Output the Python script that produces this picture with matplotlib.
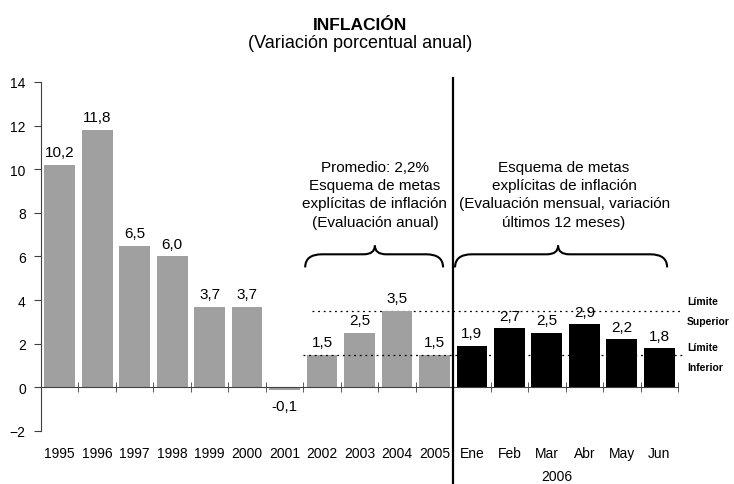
import matplotlib
matplotlib.use("Agg")
import matplotlib.pyplot as plt
from matplotlib.path import Path
from matplotlib.patches import PathPatch
import matplotlib.transforms as mtransforms
import numpy as np

plt.rcParams['font.family'] = ['Liberation Sans', 'DejaVu Sans']

# data
years = ['1995', '1996', '1997', '1998', '1999', '2000', '2001',
         '2002', '2003', '2004', '2005']
year_vals = [10.2, 11.8, 6.5, 6.0, 3.7, 3.7, -0.1, 1.5, 2.5, 3.5, 1.5]
months = ['Ene', 'Feb', 'Mar', 'Abr', 'May', 'Jun']
month_vals = [1.9, 2.7, 2.5, 2.9, 2.2, 1.8]
lim_sup = 3.5
lim_inf = 1.5

labels = years + months
vals = year_vals + month_vals
x = np.arange(len(labels))
colors = ['#a0a0a0'] * len(years) + ['black'] * len(months)

fig = plt.figure(figsize=(7.34, 4.85), dpi=100)
ax = fig.add_axes([0.0559, 0.1093, 0.8678, 0.7196])

ax.bar(x, vals, width=0.82, color=colors, zorder=2)
for xi, v in zip(x, vals):
    txt = f'{v:.1f}'.replace('.', ',')
    if v >= 0:
        ax.annotate(txt, (xi, v), xytext=(0, 4), textcoords='offset points',
                    ha='center', va='bottom', fontsize=11)
    else:
        ax.annotate(txt, (xi, v), xytext=(0, -7), textcoords='offset points',
                    ha='center', va='top', fontsize=11)

ax.set_xlim(-0.5, len(labels) - 0.5)
ax.set_ylim(-2, 14)
ax.set_yticks(np.arange(-2, 15, 2))

for s in ['top', 'right']:
    ax.spines[s].set_visible(False)
ax.spines['bottom'].set_position(('data', 0))
ax.spines['bottom'].set_color('#404040')
ax.spines['left'].set_color('#404040')
ax.spines['bottom'].set_zorder(3)

ax.set_xticks(x)
ax.set_xticklabels(labels, fontsize=10)
ax.set_xticks(np.arange(0.5, len(labels), 1), minor=True)
ax.tick_params(axis='x', which='major', length=0, pad=42)
ax.tick_params(axis='x', which='minor', direction='inout', length=7, color='#404040')
ax.tick_params(axis='y', direction='out', length=5, labelsize=10, color='#404040', pad=6)

ax.text(13.27, -4.05, '2006', ha='center', va='center', fontsize=10)

# separator line
trans = mtransforms.blended_transform_factory(ax.transData, ax.transAxes)
ax.plot([10.5, 10.5], [1.0115, -0.16], color='black', lw=1.6,
        transform=trans, clip_on=False, zorder=4)

# target band
ax.plot([6.73, 16.63], [lim_sup, lim_sup], color='black', lw=0.9,
        linestyle=(0, (1.5, 3.0)), clip_on=False, zorder=1)
ax.plot([6.49, 16.63], [lim_inf, lim_inf], color='black', lw=0.9,
        linestyle=(0, (1.5, 3.0)), clip_on=False, zorder=3)

lim_font = dict(fontsize=7.5, fontweight='bold', ha='left', va='center')
ax.text(16.74, 3.94, 'Límite', **lim_font, clip_on=False)
ax.text(16.74, 3.03, 'Superior', **lim_font, clip_on=False)
ax.text(16.74, 1.83, 'Límite', **lim_font, clip_on=False)
ax.text(16.74, 0.92, 'Inferior', **lim_font, clip_on=False)


def brace(x1, x2, xm, y_end, y_h, y_tip):
    d = 0.45
    t = 0.3
    verts = [(x1, y_end), (x1, y_h), (x1 + d, y_h),
             (xm - t, y_h),
             (xm, y_h), (xm, y_tip),
             (xm, y_h), (xm + t, y_h),
             (x2 - d, y_h),
             (x2, y_h), (x2, y_end)]
    codes = [Path.MOVETO, Path.CURVE3, Path.CURVE3,
             Path.LINETO,
             Path.CURVE3, Path.CURVE3,
             Path.CURVE3, Path.CURVE3,
             Path.LINETO,
             Path.CURVE3, Path.CURVE3]
    ax.add_patch(PathPatch(Path(verts, codes), fill=False, lw=1.5,
                           edgecolor='black', clip_on=False))


brace(6.55, 10.23, 8.41, 5.5, 6.1, 6.5)
brace(10.55, 16.21, 13.30, 5.5, 6.1, 6.5)

ax.text(8.41, 8.85, 'Promedio: 2,2%\nEsquema de metas\nexplícitas de inflación\n(Evaluación anual)',
        ha='center', va='center', fontsize=11, linespacing=1.38)
ax.text(13.46, 8.85, 'Esquema de metas\nexplícitas de inflación\n(Evaluación mensual, variación\núltimos 12 meses)',
        ha='center', va='center', fontsize=11, linespacing=1.38)

fig.text(0.49, 0.948, 'INFLACIÓN', ha='center', va='center', fontsize=12.5, fontweight='bold')
fig.text(0.49, 0.911, '(Variación porcentual anual)', ha='center', va='center', fontsize=13)

fig.savefig('out.png', dpi=100)
